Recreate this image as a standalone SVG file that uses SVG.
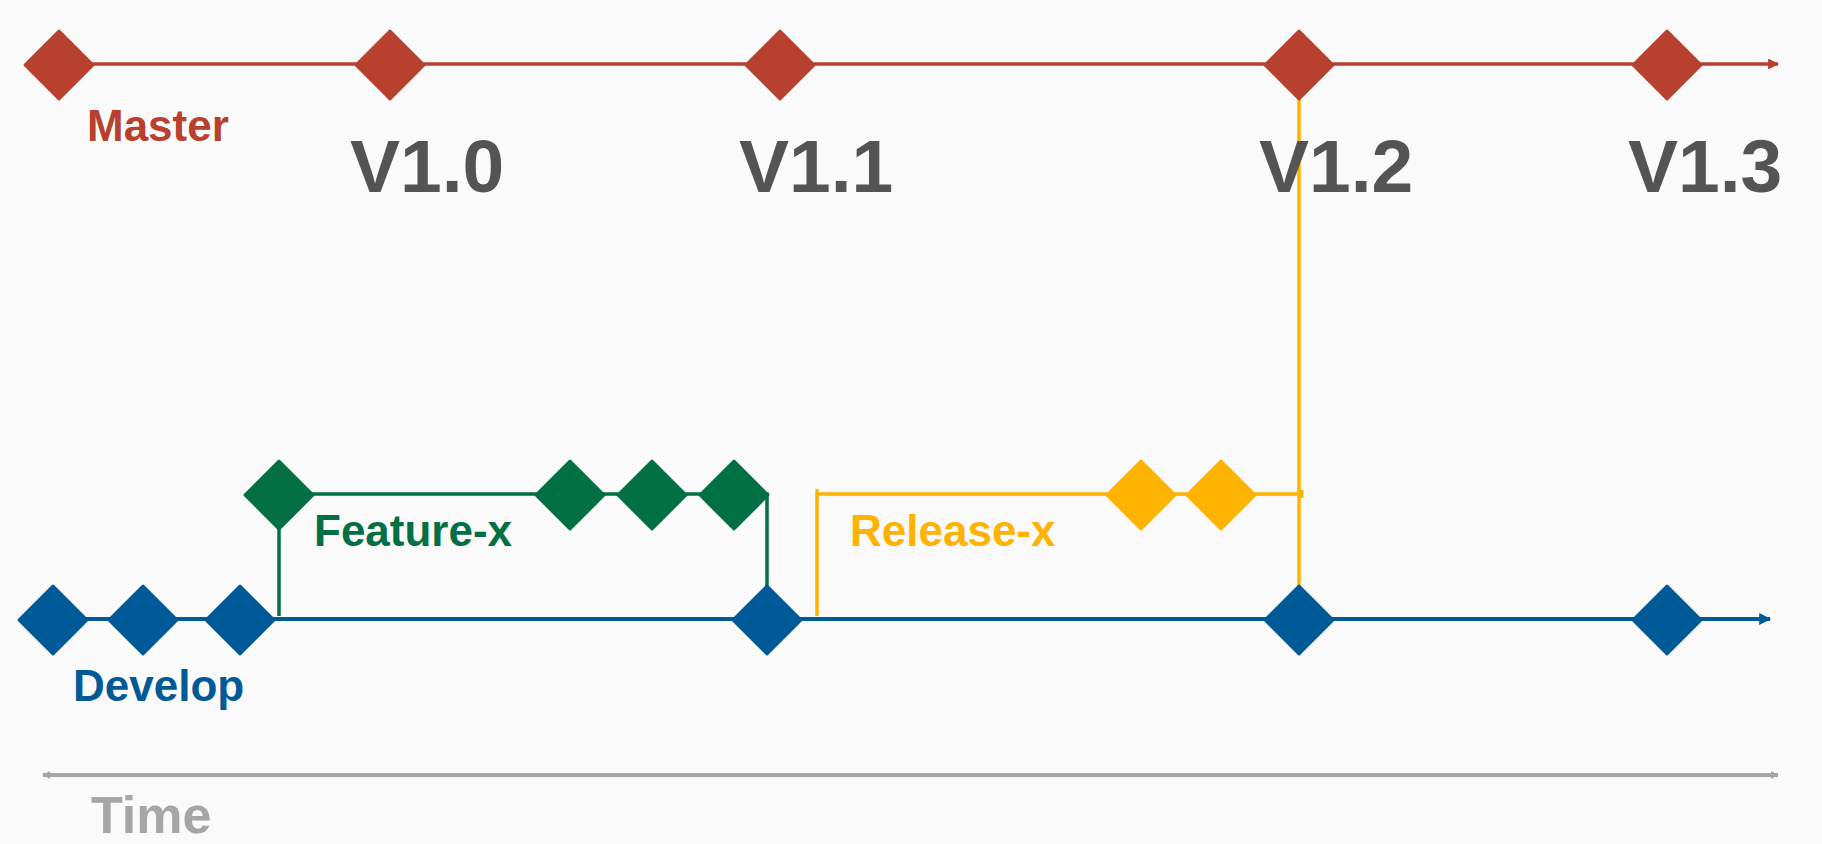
<svg xmlns="http://www.w3.org/2000/svg" xmlns:xlink="http://www.w3.org/1999/xlink" width="1822" height="844" viewBox="0 0 1822 844">
<style>
.t{font-family:"Liberation Sans",Arial,sans-serif;font-weight:bold}
.ver{font-size:75px;fill:#545454}
.lbl{font-size:44px}
.m{fill:#B7412E;stroke:#B7412E}
.dv{fill:#005A97;stroke:#005A97}
.f{fill:#027044;stroke:#027044}
.r{fill:#FDB300;stroke:#FDB300}
.ln{fill:none;stroke-width:3.5}
</style>
<defs>
<path id="d" d="M0,-34 L34,0 L0,34 L-34,0 Z" stroke-width="3" stroke-linejoin="round"/>
<marker id="am" viewBox="0 0 10 10" refX="9" refY="5" markerWidth="12" markerHeight="11" markerUnits="userSpaceOnUse" orient="auto-start-reverse"><path d="M0,0 L10,5 L0,10 Z" fill="#B7412E"/></marker>
<marker id="ad" viewBox="0 0 10 10" refX="9" refY="5" markerWidth="13" markerHeight="12" markerUnits="userSpaceOnUse" orient="auto-start-reverse"><path d="M0,0 L10,5 L0,10 Z" fill="#005A97"/></marker>
<marker id="at" viewBox="0 0 10 10" refX="9" refY="5" markerWidth="8" markerHeight="11" markerUnits="userSpaceOnUse" orient="auto-start-reverse"><path d="M0,0 L10,5 L0,10 Z" fill="#A6A6A6"/></marker>
</defs>
<rect width="1822" height="844" fill="#FAFAFA"/>
<g id="connectors">
<line x1="1299" y1="64" x2="1299" y2="619" class="ln" stroke="#FDB300" stroke-width="3.5"/>
<path d="M817,616 V494 H1302" class="ln" stroke="#FDB300"/>
<line x1="817" y1="489" x2="817" y2="497" stroke="#FDB300" stroke-width="3"/>
<line x1="1302" y1="490" x2="1302" y2="498" stroke="#FDB300" stroke-width="3"/>
<path d="M279,616 V494 H767 V590" class="ln" stroke="#027044"/>
<line x1="59" y1="64" x2="1778" y2="64" stroke="#B7412E" stroke-width="3.5" marker-end="url(#am)"/>
<line x1="53" y1="619" x2="1770" y2="619" stroke="#005A97" stroke-width="4" marker-end="url(#ad)"/>
<line x1="43" y1="775" x2="1778" y2="775" stroke="#A6A6A6" stroke-width="4" marker-start="url(#at)" marker-end="url(#at)"/>
</g>
<g id="master">
<use xlink:href="#d" x="59" y="65" class="m"/>
<text class="t lbl" x="87" y="141" fill="#B7412E">Master</text>
</g>
<g id="v10"><use xlink:href="#d" x="390" y="65" class="m"/><text class="t ver" x="350" y="192">V1.0</text></g>
<g id="v11"><use xlink:href="#d" x="780" y="65" class="m"/><text class="t ver" x="739" y="192">V1.1</text></g>
<g id="v12"><use xlink:href="#d" x="1299" y="65" class="m"/><text class="t ver" x="1259" y="192">V1.2</text></g>
<g id="v13"><use xlink:href="#d" x="1667" y="65" class="m"/><text class="t ver" x="1628" y="192">V1.3</text></g>
<g id="develop">
<use xlink:href="#d" x="53" y="620" class="dv"/>
<use xlink:href="#d" x="143" y="620" class="dv"/>
<use xlink:href="#d" x="240" y="620" class="dv"/>
<use xlink:href="#d" x="767" y="620" class="dv"/>
<use xlink:href="#d" x="1299" y="620" class="dv"/>
<use xlink:href="#d" x="1667" y="620" class="dv"/>
<text class="t lbl" x="73" y="701" fill="#005A97">Develop</text>
</g>
<g id="feature">
<use xlink:href="#d" x="279" y="495" class="f"/>
<use xlink:href="#d" x="570" y="495" class="f"/>
<use xlink:href="#d" x="652" y="495" class="f"/>
<use xlink:href="#d" x="734" y="495" class="f"/>
<text class="t lbl" x="314" y="546" fill="#027044">Feature-x</text>
</g>
<g id="release">
<use xlink:href="#d" x="1141" y="495" class="r"/>
<use xlink:href="#d" x="1221" y="495" class="r"/>
<text class="t lbl" x="850" y="546" fill="#FDB300">Release-x</text>
</g>
<g id="time">
<text class="t" x="91" y="833" font-size="52" fill="#A6A6A6">Time</text>
</g>
</svg>
